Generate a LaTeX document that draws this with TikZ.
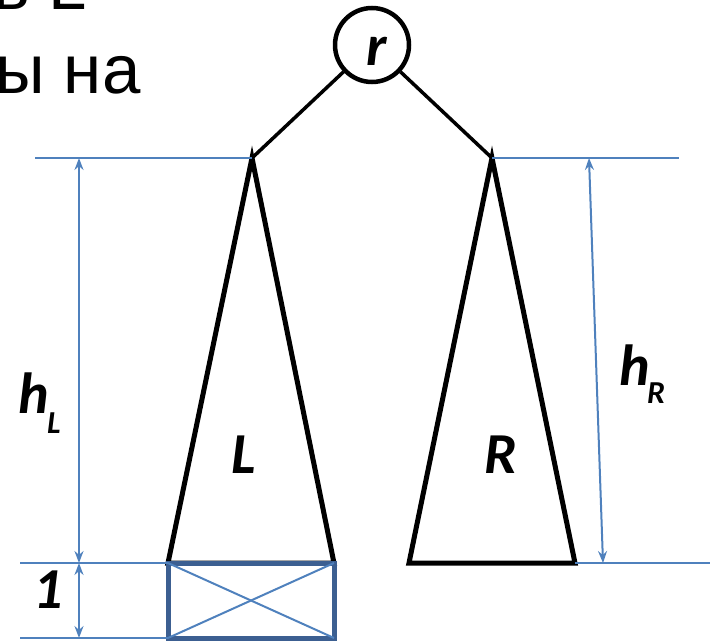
\documentclass[tikz,border=0pt]{standalone}
\usepackage{fontspec}
\setmainfont{Liberation Sans}
\newfontfamily\lblfont{Carlito}
\usetikzlibrary{arrows.meta}
\definecolor{dimblue}{RGB}{79,129,189}
\definecolor{boxblue}{RGB}{60,95,145}
\begin{document}
\begin{tikzpicture}[x=1pt,y=-1pt,
  dimline/.style={draw=dimblue, line width=2pt},
  dimarrow/.style={draw=dimblue, line width=2pt,
    {Stealth[length=12pt,width=9pt,inset=4pt]}-{Stealth[length=12pt,width=9pt,inset=4pt]}},
  tree/.style={draw=black, line width=5pt, line join=miter},
  edge/.style={draw=black, line width=3.5pt},
  lbl/.style={font=\lblfont\bfseries\itshape\fontsize{58}{58}\selectfont, inner sep=0pt},
  sublbl/.style={font=\lblfont\bfseries\itshape\fontsize{32}{32}\selectfont, inner sep=0pt},
  bigtext/.style={font=\fontsize{69}{69}\selectfont, inner sep=0pt, anchor=base west}]
\useasboundingbox (0,0) rectangle (710,642);
\clip (0,0) rectangle (710,642);

% fragments of the cut-off text
\node[bigtext] (t1) at (-7,10) {в L};
\node[bigtext] (t2) at (-5,93) {ы на};

% points
\coordinate (aL) at (252,158);
\coordinate (blL) at (168,563);
\coordinate (brL) at (334,563);
\coordinate (aR) at (492,158);
\coordinate (blR) at (409,563);
\coordinate (brR) at (575,563);

% root
\node[draw, circle, line width=4.5pt, minimum size=74pt, inner sep=0pt] (root) at (372,45) {};
\node[lbl, anchor=base] (rl) at (377,66) {r};

\draw[edge] (root) -- (aL);
\draw[edge] (root) -- (aR);

% subtrees
\draw[tree] (aL) -- (blL) -- (brL) -- cycle;
\draw[tree] (aR) -- (blR) -- (brR) -- cycle;

% extra level box
\node[draw=boxblue, line width=5pt, minimum width=166pt, minimum height=75pt,
      inner sep=0pt, outer sep=0pt] (box) at (251,600.5) {};
\draw[dimline] (box.north west) -- (box.south east);
\draw[dimline] (box.south west) -- (box.north east);

% dimension guide lines
\coordinate (gTL) at (35,158);
\coordinate (gTR) at (679,158);
\coordinate (gML) at (20,563);
\coordinate (gMR) at (710,563);
\coordinate (gBL) at (20,638);
\draw[dimline] (gTL) -- (aL);
\draw[dimline] (aR) -- (gTR);
\draw[dimline] (gML) -- (box.north west);
\draw[dimline] (brR) -- (gMR);
\draw[dimline] (gBL) -- (box.south west);

% dimension arrows
\coordinate (hLt) at (79,158);
\coordinate (hLb) at (79,563);
\coordinate (oneb) at (79,638);
\coordinate (hRt) at (589,158);
\coordinate (hRb) at (603,563);
\draw[dimarrow] (hLt) -- (hLb);
\draw[dimarrow] (hLb) -- (oneb);
\draw[dimarrow] (hRt) -- (hRb);

% labels
\node[lbl, anchor=base west] (hL) at (18,413) {h};
\node[sublbl, anchor=base west] (hLs) at (47,433) {L};
\node[lbl, anchor=base west] (hR) at (619,385) {h};
\node[sublbl, anchor=base west] (hRs) at (647,403) {R};
\node[lbl, anchor=base] (Ll) at (244,473) {L};
\node[lbl, anchor=base] (Rl) at (501,473) {R};
\node[lbl, anchor=base] (one) at (48,608) {1};
\end{tikzpicture}
\end{document}
